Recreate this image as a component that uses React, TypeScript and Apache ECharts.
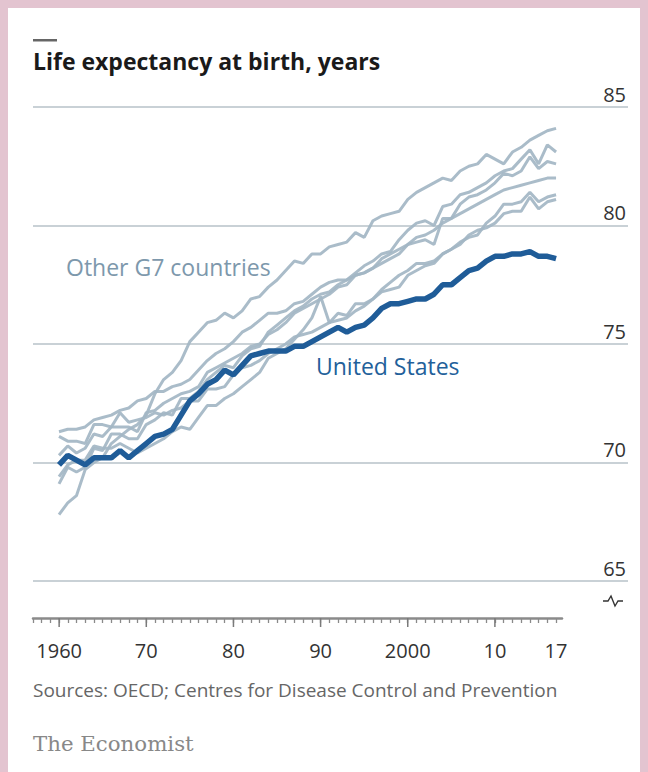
import React, { useEffect, useRef } from "react";
import * as echarts from "echarts";

const years = [1960,1961,1962,1963,1964,1965,1966,1967,1968,1969,1970,1971,1972,1973,1974,1975,1976,1977,1978,1979,1980,1981,1982,1983,1984,1985,1986,1987,1988,1989,1990,1991,1992,1993,1994,1995,1996,1997,1998,1999,2000,2001,2002,2003,2004,2005,2006,2007,2008,2009,2010,2011,2012,2013,2014,2015,2016,2017];

const unitedStates = [69.9,70.3,70.1,69.9,70.2,70.2,70.2,70.5,70.2,70.5,70.8,71.1,71.2,71.4,72.0,72.6,72.9,73.3,73.5,73.9,73.7,74.1,74.5,74.6,74.7,74.7,74.7,74.9,74.9,75.1,75.3,75.5,75.7,75.5,75.7,75.8,76.1,76.5,76.7,76.7,76.8,76.9,76.9,77.1,77.5,77.5,77.8,78.1,78.2,78.5,78.7,78.7,78.8,78.8,78.9,78.7,78.7,78.6];
const japan = [67.8,68.3,68.6,69.7,70.0,70.2,70.8,71.1,71.4,71.6,72.0,72.9,73.5,73.8,74.3,75.1,75.5,75.9,76.0,76.3,76.1,76.4,76.9,77.0,77.4,77.7,78.1,78.5,78.4,78.8,78.8,79.1,79.2,79.3,79.7,79.5,80.2,80.4,80.5,80.6,81.1,81.4,81.6,81.8,82.0,81.9,82.3,82.5,82.6,83.0,82.8,82.6,83.1,83.3,83.6,83.8,84.0,84.1];
const canada = [71.3,71.4,71.4,71.5,71.8,71.9,72.0,72.2,72.3,72.6,72.7,73.0,73.0,73.2,73.3,73.5,73.9,74.3,74.6,74.8,75.1,75.5,75.7,76.0,76.3,76.3,76.4,76.7,76.8,77.1,77.4,77.6,77.7,77.7,77.9,78.0,78.2,78.4,78.6,78.8,79.2,79.5,79.6,79.8,80.1,80.3,80.5,80.7,80.9,81.1,81.3,81.5,81.6,81.7,81.8,81.9,82.0,82.0];
const france = [70.3,70.7,70.4,70.6,71.2,71.1,71.5,71.5,71.5,71.3,72.1,72.2,72.5,72.7,72.9,73.0,73.2,73.8,74.0,74.2,74.4,74.6,74.9,75.0,75.4,75.6,75.9,76.3,76.5,76.7,76.9,77.1,77.4,77.5,77.9,78.0,78.2,78.6,78.8,79.0,79.2,79.3,79.4,79.2,80.3,80.3,80.9,81.2,81.3,81.5,81.8,82.2,82.1,82.3,82.9,82.4,82.7,82.6];
const italy = [69.1,69.8,69.6,69.8,70.6,70.5,71.2,71.2,71.0,71.0,71.6,71.8,72.1,72.0,72.7,72.7,73.0,73.5,73.8,74.1,74.0,74.5,74.8,74.9,75.5,75.8,76.1,76.4,76.6,76.9,77.1,77.2,77.5,77.7,78.0,78.3,78.5,78.8,78.9,79.4,79.8,80.1,80.2,80.0,80.8,80.9,81.3,81.4,81.6,81.8,82.1,82.3,82.4,82.8,83.2,82.6,83.4,83.1];
const unitedKingdom = [71.1,70.9,70.9,70.8,71.6,71.6,71.5,72.1,71.7,71.8,71.9,72.1,72.0,72.2,72.3,72.6,72.6,73.1,73.1,73.2,73.7,74.0,74.1,74.3,74.6,74.8,75.0,75.3,75.4,75.5,75.7,75.9,76.3,76.2,76.7,76.7,76.9,77.2,77.3,77.4,77.9,78.1,78.3,78.4,78.8,79.0,79.3,79.5,79.6,80.1,80.4,80.9,80.9,81.0,81.4,81.0,81.2,81.3];
const germany = [69.4,69.9,70.1,70.1,70.7,70.6,70.6,70.8,70.6,70.4,70.6,70.8,71.0,71.3,71.5,71.4,71.9,72.4,72.4,72.7,72.9,73.2,73.5,73.8,74.4,74.6,74.8,75.2,75.6,76.1,77.0,75.9,76.0,76.1,76.4,76.6,76.9,77.3,77.6,77.9,78.1,78.4,78.4,78.5,78.8,79.0,79.2,79.6,79.8,79.9,80.1,80.5,80.6,80.6,81.2,80.7,81.0,81.1];

const otherG7 = [
  { name: "Japan", values: japan },
  { name: "Canada", values: canada },
  { name: "France", values: france },
  { name: "Italy", values: italy },
  { name: "United Kingdom", values: unitedKingdom },
  { name: "Germany", values: germany },
];

const yTicks = [65, 70, 75, 80, 85];
const xLabels: Record<number, string> = { 1960: "1960", 1970: "70", 1980: "80", 1990: "90", 2000: "2000", 2010: "10", 2017: "17" };
const majorTickYears = [1960, 1970, 1980, 1990, 2000, 2010];

const SANS = "'Open Sans', 'Noto Sans', sans-serif";
const GRAY_LINE = "#a3b6c4";
const US_BLUE = "#1f5c98";

export default function App() {
  const ref = useRef<HTMLDivElement>(null);
  useEffect(() => {
    if (!ref.current) return;
    const chart = echarts.init(ref.current, null, { renderer: "svg" });
    const pair = (vals: number[]) => years.map((y, i) => [y, vals[i]]);
    const series: any[] = otherG7.map((c) => ({
      name: c.name,
      type: "line",
      xAxisIndex: 0,
      yAxisIndex: 0,
      data: pair(c.values),
      showSymbol: false,
      symbol: "none",
      lineStyle: { color: GRAY_LINE, width: 3, opacity: 0.92 },
      z: 2,
    }));
    series.push({
      name: "United States",
      type: "line",
      xAxisIndex: 0,
      yAxisIndex: 0,
      data: pair(unitedStates),
      showSymbol: false,
      symbol: "none",
      lineStyle: { color: US_BLUE, width: 5.5 },
      z: 3,
    });
    series.push({
      type: "custom",
      xAxisIndex: 1,
      yAxisIndex: 1,
      data: majorTickYears.map((y) => [y, 0]),
      renderItem: (params: any, api: any) => {
        const p = api.coord([api.value(0), 0]);
        return {
          type: "line",
          shape: { x1: p[0], y1: p[1], x2: p[0], y2: p[1] + 9 },
          style: { stroke: "#7a7a7a", lineWidth: 1.5 },
        };
      },
      silent: true,
      z: 5,
    });

    chart.setOption({
      animation: false,
      backgroundColor: "transparent",
      grid: [
        { left: 33, right: 20, top: 107, bottom: 191 },
        { left: 33, right: 86, top: 610, height: 8 },
      ],
      xAxis: [
        {
          type: "value",
          gridIndex: 0,
          min: 1957.018,
          max: 2025.25,
          show: false,
        },
        {
          type: "value",
          gridIndex: 1,
          min: 1957,
          max: 2017.7,
          interval: 1,
          position: "bottom",
          axisLine: { show: true, lineStyle: { color: "#8a8a8a", width: 2.5 } },
          axisTick: { show: true, length: 5, lineStyle: { color: "#8a8a8a", width: 1.3 } },
          splitLine: { show: false },
          axisLabel: {
            show: true,
            margin: 22,
            fontFamily: SANS,
            fontSize: 20,
            color: "#333",
            showMinLabel: true,
            showMaxLabel: false,
            formatter: (v: number) => xLabels[Math.round(v * 1000) / 1000] || "",
          },
        },
      ],
      yAxis: [
        {
          type: "value",
          gridIndex: 0,
          min: 65,
          max: 85,
          interval: 5,
          position: "right",
          axisLine: { show: false },
          axisTick: { show: false },
          splitLine: { show: true, lineStyle: { color: "#b7c2c9", width: 1.6 } },
          axisLabel: {
            inside: true,
            margin: 2,
            fontFamily: SANS,
            fontSize: 20,
            color: "#333",
            verticalAlign: "bottom",
            padding: [0, 0, 3, 0],
            formatter: (v: number) => (yTicks.includes(v) ? String(v) : ""),
          },
        },
        { type: "value", gridIndex: 1, min: 0, max: 1, show: false },
      ],
      graphic: [
        { type: "rect", shape: { x: 33, y: 39, width: 24, height: 2.5 }, style: { fill: "#666" } },
        {
          type: "text",
          x: 33,
          y: 61,
          style: { text: "Life expectancy at birth, years", font: `bold 23px ${SANS}`, fill: "#1a1a1a", verticalAlign: "middle" },
        },
        {
          type: "text",
          x: 66,
          y: 267,
          style: { text: "Other G7 countries", font: `23px ${SANS}`, fill: "#7d98ac", verticalAlign: "middle" },
        },
        {
          type: "text",
          x: 316,
          y: 366,
          style: { text: "United States", font: `23px ${SANS}`, fill: "#22609a", verticalAlign: "middle" },
        },
        {
          type: "polyline",
          shape: { points: [[603, 601], [608, 601], [611, 596], [615, 606], [618, 601], [623, 601]] },
          style: { stroke: "#333", lineWidth: 1.4, fill: null },
        },
        {
          type: "text",
          x: 33,
          y: 690,
          style: { text: "Sources: OECD; Centres for Disease Control and Prevention", font: `19px ${SANS}`, fill: "#666", verticalAlign: "middle" },
        },
        {
          type: "text",
          x: 33,
          y: 743,
          style: { text: "The Economist", font: `21.3px 'DejaVu Serif', serif`, fill: "#888", verticalAlign: "middle" },
        },
      ],
      series,
    });
    return () => chart.dispose();
  }, []);

  return (
    <div style={{ position: "fixed", left: 0, top: 0, width: 648, height: 772, background: "#e3c4d0" }}>
      <div style={{ position: "absolute", left: 8, top: 8, width: 632, height: 764, background: "#ffffff" }} />
      <div ref={ref} style={{ position: "absolute", left: 0, top: 0, width: 648, height: 772 }} />
    </div>
  );
}
